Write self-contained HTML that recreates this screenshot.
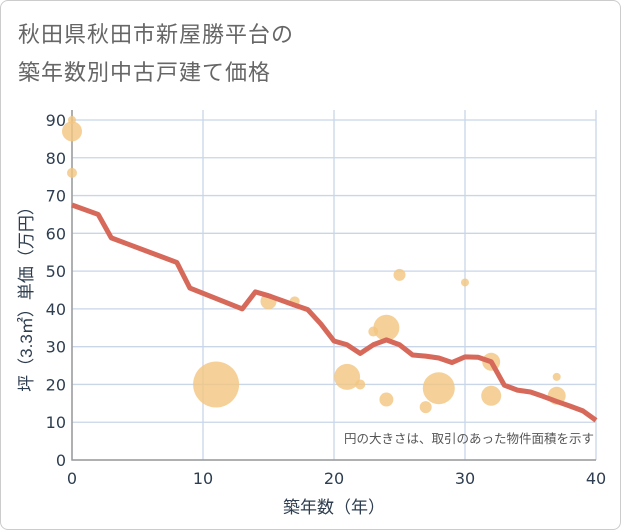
<!DOCTYPE html>
<html><head><meta charset="utf-8"><style>
body{margin:0;background:#fff}
#c{position:relative;width:619px;height:528px;border:1px solid #ccc;border-radius:8px;overflow:hidden;background:#fff;font-family:"Liberation Sans","Noto Sans CJK JP",sans-serif}
.t{position:absolute;left:17px;font-size:22px;color:#666;letter-spacing:1px}
</style></head><body>
<div id="c">
<div class="t" style="top:16px">秋田県秋田市新屋勝平台の</div>
<div class="t" style="top:54px">築年数別中古戸建て価格</div>
<svg id="s" width="621" height="530" style="position:absolute;left:-1px;top:-1px"></svg>
</div>
<script>
const xTicks=[0,10,20,30,40];
const yTicks=[0,10,20,30,40,50,60,70,80,90];
const lineAge=[0,2,3,8,9,13,14,15,17,18,19,20,21,22,23,24,25,26,27,28,29,30,31,32,33,34,35,36,37,38,39,40];
const linePrice=[67.5,65,58.8,52.3,45.5,40,44.5,43.5,41,39.8,36,31.5,30.5,28.2,30.5,31.8,30.5,27.8,27.5,27,25.8,27.3,27.2,26,19.8,18.5,18,16.8,15.5,14.3,13,10.5];
const bubAge=[0,0,0,11,15,17,21,22,23,24,24,25,27,28,30,32,32,37,37];
const bubPrice=[90,87,76,20,42,42,22,20,34,35,16,49,14,19,47,26,17,22,17];
const bubSize=[4,10,5,23,8,5,13,5,5,13,7,6,6,16,4,9,10,4,9];
const X0=72,X1=596,Y0=460,Y1=120;
const sx=v=>X0+(X1-X0)*v/40, sy=v=>Y0-(Y0-Y1)*v/90;
const s=document.getElementById('s'),NS='http://www.w3.org/2000/svg';
const TF='"DejaVu Sans","Liberation Sans",sans-serif';
function mk(t,a,p){const e=document.createElementNS(NS,t);for(const k in a)e.setAttribute(k,a[k]);(p||s).appendChild(e);return e;}
const g=mk('g',{});


yTicks.forEach(v=>{const l=mk('line',{x1:X0,x2:X1,y1:sy(v),y2:sy(v),stroke:'#c8d6e8','stroke-width':1.3},g);


const t=mk('text',{x:X0-6,y:sy(v)+6,'text-anchor':'end','font-size':16,fill:'#2e3e50','font-family':TF});t.textContent=v;

});
xTicks.forEach(v=>{const l=mk('line',{x1:sx(v),x2:sx(v),y1:Y1-10,y2:Y0,stroke:'#c8d6e8','stroke-width':1.3},g);


const t=mk('text',{x:sx(v),y:Y0+24,'text-anchor':'middle','font-size':16,fill:'#2e3e50','font-family':TF});t.textContent=v;

});
const ax=mk('path',{d:`M${X0} ${Y1-10}V${Y0}H${X1}`,stroke:'#999',fill:'none','stroke-width':1.5});


bubAge.forEach((a,i)=>{const c=mk('circle',{cx:sx(a),cy:sy(bubPrice[i]),r:bubSize[i],fill:'#f3c57f','fill-opacity':0.8});

});
const pl=mk('polyline',{points:lineAge.map((a,i)=>sx(a)+','+sy(linePrice[i])).join(' '),fill:'none',stroke:'#d6695a','stroke-width':5,'stroke-linejoin':'round'});


const n=mk('text',{x:594,y:443,'text-anchor':'end','font-size':12.5,fill:'#555'});n.textContent='円の大きさは、取引のあった物件面積を示す';


const xt=mk('text',{x:334,y:513,'text-anchor':'middle','font-size':17,fill:'#2e3e50'});xt.textContent='築年数（年）';


const yt=mk('text',{x:0,y:0,'text-anchor':'middle','font-size':17,fill:'#2e3e50',transform:'translate(32 295) rotate(-90)'});yt.textContent='坪（3.3㎡）単価（万円）';


</script>
</body></html>
